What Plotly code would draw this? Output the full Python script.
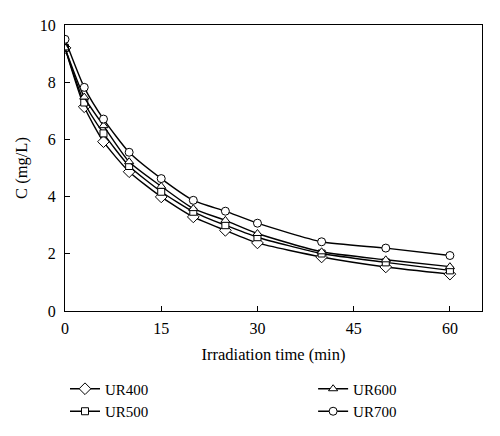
"""Concentration decay under irradiation for UR catalysts (Plotly)."""

import plotly.graph_objects as go

time_min = [0, 3, 6, 10, 15, 20, 25, 30, 40, 50, 60]

ur400 = [9.2, 7.14, 5.92, 4.87, 3.99, 3.29, 2.82, 2.38, 1.89, 1.54, 1.29]
ur500 = [9.2, 7.29, 6.21, 5.07, 4.17, 3.47, 3.00, 2.58, 2.01, 1.70, 1.42]
ur600 = [9.2, 7.48, 6.48, 5.22, 4.36, 3.58, 3.17, 2.71, 2.07, 1.79, 1.55]
ur700 = [9.5, 7.82, 6.71, 5.55, 4.63, 3.87, 3.49, 3.07, 2.42, 2.20, 1.94]

series = [
    ("UR400", ur400, "diamond", 9, "legend"),
    ("UR500", ur500, "square", 7, "legend"),
    ("UR600", ur600, "triangle-up", 8, "legend2"),
    ("UR700", ur700, "circle", 8, "legend2"),
]

FONT = "Liberation Serif, Times New Roman, serif"

fig = go.Figure()
for name, values, symbol, size, leg in series:
    fig.add_trace(go.Scatter(
        x=time_min, y=values, name=name, mode="lines+markers",
        line=dict(color="black", width=1.4, shape="spline", smoothing=0.6),
        marker=dict(symbol=symbol, size=size, color="white",
                    line=dict(color="black", width=1)),
        legend=leg,
    ))

axis_style = dict(
    showline=True, linecolor="black", linewidth=1.3, mirror=True,
    ticks="inside", ticklen=5, tickcolor="black", showgrid=False,
    zeroline=False, tickfont=dict(size=16, color="black"),
    automargin=False,
)

fig.update_xaxes(range=[0, 65], tickvals=[0, 15, 30, 45, 60],
                 ticklabelstandoff=3,
                 title=dict(text="Irradiation time (min)", standoff=12,
                            font=dict(size=16.5, color="black")),
                 **axis_style)
fig.update_yaxes(range=[0, 10], tickvals=[0, 2, 4, 6, 8, 10],
                 ticklabelstandoff=5,
                 title=dict(text="C (mg/L)", standoff=7,
                            font=dict(size=16.5, color="#000000")),
                 **axis_style)

legend_style = dict(font=dict(size=15, color="black"), bgcolor="rgba(0,0,0,0)",
                    yanchor="top", xanchor="left", tracegroupgap=0)
fig.update_layout(
    width=500, height=436,
    margin=dict(l=57, r=26, t=17, b=133),
    paper_bgcolor="white", plot_bgcolor="white",
    font=dict(family=FONT, color="black"),
    legend=dict(x=0.0, y=-0.215, **legend_style),
    legend2=dict(x=0.595, y=-0.215, **legend_style),
)

fig.write_html("out.html")
